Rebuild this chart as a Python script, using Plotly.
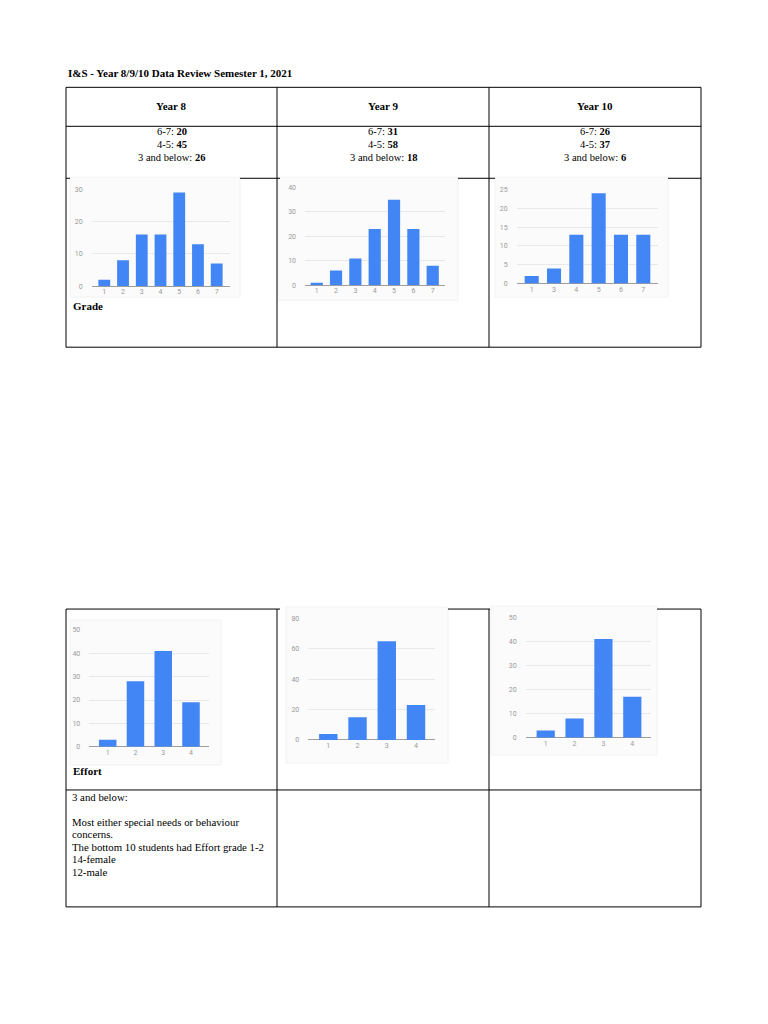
import plotly.graph_objects as go

W, H = 768, 1024

# ---------------- data ----------------
title_text = "I&S - Year 8/9/10 Data Review Semester 1, 2021"
year_labels = ["Year 8", "Year 9", "Year 10"]
band_labels = ["6-7", "4-5", "3 and below"]
band_y8 = [20, 45, 26]
band_y9 = [31, 58, 18]
band_y10 = [26, 37, 6]

grade_cats_y8 = ["1", "2", "3", "4", "5", "6", "7"]
grade_vals_y8 = [2, 8, 16, 16, 29, 13, 7]
grade_cats_y9 = ["1", "2", "3", "4", "5", "6", "7"]
grade_vals_y9 = [1, 6, 11, 23, 35, 23, 8]
grade_cats_y10 = ["1", "3", "4", "5", "6", "7"]
grade_vals_y10 = [2, 4, 13, 24, 13, 13]

effort_cats = ["1", "2", "3", "4"]
effort_vals_y8 = [3, 28, 41, 19]
effort_vals_y9 = [4, 15, 65, 23]
effort_vals_y10 = [3, 8, 41, 17]

notes_lines = [
    "3 and below:",
    "",
    "Most either special needs or behaviour",
    "concerns.",
    "The bottom 10 students had Effort grade 1-2",
    "14-female",
    "12-male",
]

# ---------------- helpers ----------------
YS, YO = 0.9927, 3.63  # empirical vertical correction of the rendered page


def px(x):
    return x / W


def py(y):
    return 1 - ((y - YO) / YS) / H


BLUE = "#4285f4"
SERIF = "Liberation Serif"
SANS = "Roboto"

fig = go.Figure()
shapes = []
annotations = []


def line(x0, y0, x1, y1, color="#000000", width=1):
    shapes.append(dict(type="line", xref="paper", yref="paper",
                       x0=px(x0), y0=py(y0), x1=px(x1), y1=py(y1),
                       line=dict(color=color, width=width), layer="above"))


def rect(x0, y0, x1, y1, fill, border=None, layer="below"):
    shapes.append(dict(type="rect", xref="paper", yref="paper",
                       x0=px(x0), y0=py(y0), x1=px(x1), y1=py(y1),
                       fillcolor=fill,
                       line=dict(color=border if border else fill, width=1 if border else 0),
                       layer=layer))


def text(x, y, s, size=10, bold=False, xanchor="left", color="#000000", font=SERIF):
    if bold:
        s = "<b>" + s + "</b>"
    annotations.append(dict(xref="paper", yref="paper", x=px(x), y=py(y), text=s,
                            showarrow=False, xanchor=xanchor, yanchor="middle",
                            font=dict(family=font, size=size, color=color)))


# ---------------- charts ----------------
charts = [
    (grade_cats_y8, grade_vals_y8, (70, 177, 240, 297), (91.7, 230), 286, 189, 30, 10),
    (grade_cats_y9, grade_vals_y9, (278, 177, 458, 300), (305, 445), 285, 187.3, 40, 10),
    (grade_cats_y10, grade_vals_y10, (495, 177, 668, 297), (516.7, 657.7), 283.3, 189.3, 25, 5),
    (effort_cats, effort_vals_y8, (70, 620, 221, 765), (89.3, 209.3), 746.7, 630, 50, 10),
    (effort_cats, effort_vals_y9, (286, 607, 448, 763), (308.3, 435), 740, 618.3, 80, 20),
    (effort_cats, effort_vals_y10, (491, 606, 657, 755), (525.7, 650.7), 737.7, 617.3, 50, 10),
]
bar_pos = [
    (104.3, 216.7), (316.7, 432.7), (531.7, 643.3),
    (107.7, 191.0), (328.3, 416.0), (545.7, 632.3),
]

layout_axes = {}
for i, (cats, vals, img, xspan, y0p, ytp, ymax, dt) in enumerate(charts):
    n = len(cats)
    idx = "" if i == 0 else str(i + 1)
    rect(img[0], img[1], img[2], img[3], "#fbfbfb", border="#f2f2f2")
    c0, c1 = bar_pos[i]
    step = (c1 - c0) / (n - 1)
    lo = -(c0 - xspan[0]) / step
    hi = (n - 1) + (xspan[1] - c1) / step
    fig.add_trace(go.Bar(
        x=cats, y=vals, marker=dict(color=BLUE, line=dict(width=0)),
        xaxis="x" + idx, yaxis="y" + idx, hoverinfo="skip", showlegend=False,
    ))
    layout_axes["xaxis" + idx] = dict(
        domain=[px(xspan[0]), px(xspan[1])], anchor="y" + idx,
        type="category", range=[lo, hi], showgrid=False, zeroline=False,
        showline=False, ticks="", fixedrange=True,
        tickfont=dict(family=SANS, size=7, color="#9a9a9a"),
    )
    layout_axes["yaxis" + idx] = dict(
        domain=[py(y0p), py(ytp)], anchor="x" + idx,
        range=[0, ymax], dtick=dt, tick0=0, showgrid=True,
        gridcolor="#e8e8e8", gridwidth=1, zeroline=True,
        zerolinecolor="#9e9e9e", zerolinewidth=1, showline=False,
        ticks="", fixedrange=True, ticklabelstandoff=8,
        tickfont=dict(family=SANS, size=7, color="#9a9a9a"),
    )

# ---------------- top table ----------------
TL, C1, C2, TR = 66, 277, 489, 701
line(TL, 87, TR, 87)
line(TL, 126, TR, 126)
line(TL, 347, TR, 347)
for xc in (TL, C1, C2, TR):
    line(xc, 87, xc, 347)
line(TL, 178, 70, 178)
line(240, 178, 280, 178)
line(458, 178, 495, 178)
line(668, 178, TR, 178)

text(66, 73, title_text, size=11, bold=True)
centres = [(TL + C1) / 2, (C1 + C2) / 2, (C2 + TR) / 2]
for cx, lab in zip(centres, year_labels):
    text(cx, 106, lab, size=11, bold=True, xanchor="center")
for cx, vals in zip(centres, [band_y8, band_y9, band_y10]):
    for j, (bl, v) in enumerate(zip(band_labels, vals)):
        text(cx, 131 + 13 * j, bl + ": <b>" + str(v) + "</b>", size=10.5, xanchor="center")
text(71, 306, "Grade", size=11, bold=True)

# ---------------- bottom table ----------------
BT, BM, BB = 609, 790, 907
line(TL, BT, C1 + 3, BT)
line(448, BT, 490, BT)
line(657, BT, TR, BT)
line(TL, BM, TR, BM)
line(TL, BB, TR, BB)
for xc in (TL, C1, C2, TR):
    line(xc, BT, xc, BB)
text(71, 771, "Effort", size=11, bold=True)
for j, s in enumerate(notes_lines):
    if s:
        text(70, 797 + 12.5 * j, s, size=10.8)

fig.update_layout(
    width=W, height=H, margin=dict(l=0, r=0, t=0, b=0),
    paper_bgcolor="#ffffff", plot_bgcolor="rgba(0,0,0,0)",
    bargap=0.37, shapes=shapes, annotations=annotations,
    showlegend=False, **layout_axes,
)

fig.write_html("out.html", config={"displayModeBar": False, "staticPlot": True},
               post_script="document.body.style.margin='0px';document.body.style.overflow='hidden';")
